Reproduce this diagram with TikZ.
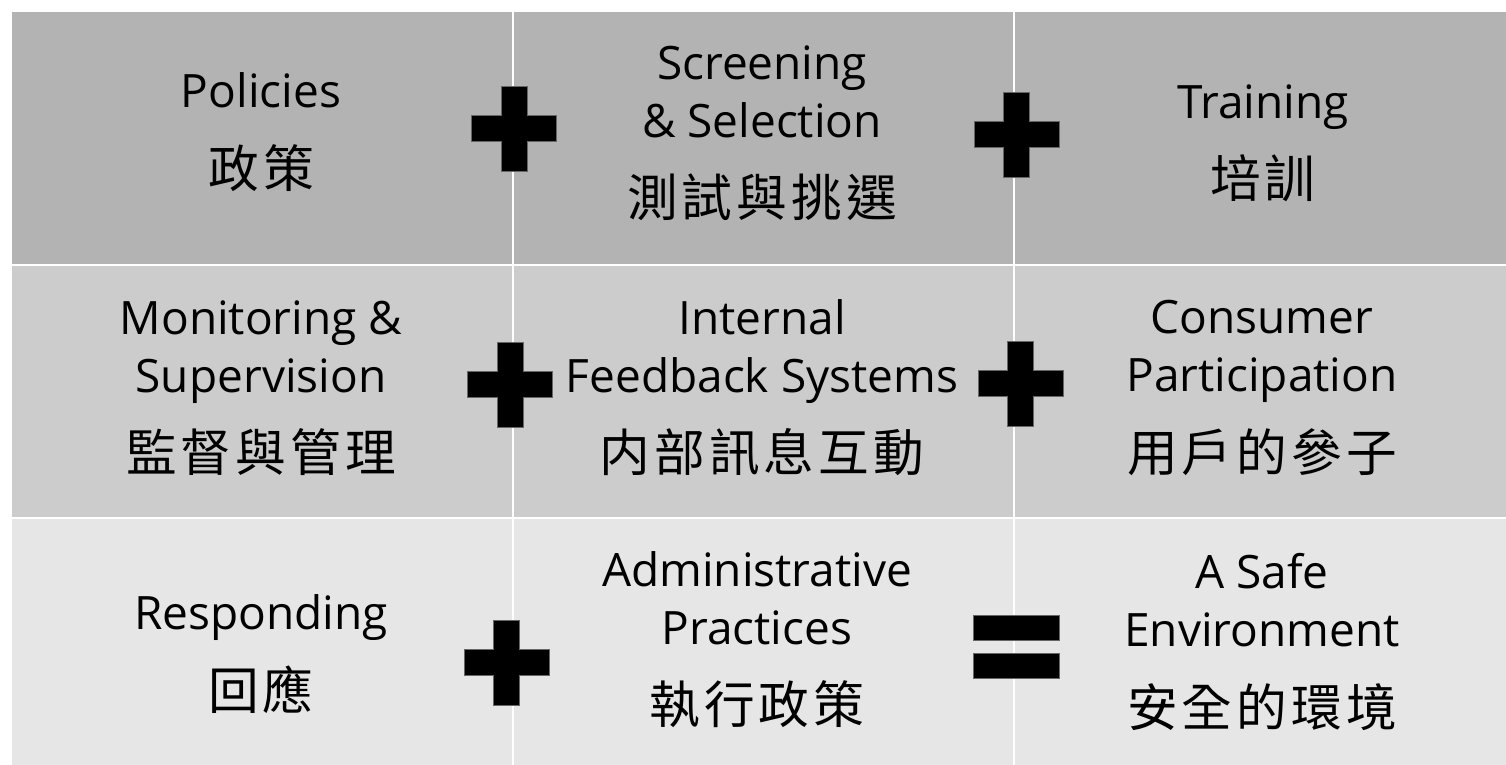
\documentclass[tikz,border=0pt]{standalone}
\usepackage{fontspec}
\setmainfont{Open Sans}
\newfontfamily\zhfont[LetterSpace=8]{Noto Sans CJK TC}
\usetikzlibrary{positioning}

\tikzset{every picture/.style={line width=0.75pt}}
\tikzset{
  cell/.style={anchor=north west, inner sep=0pt, draw=white, line width=1.5pt},
  rowa/.style={cell, fill={rgb,255:red,179;green,179;blue,179}},
  rowb/.style={cell, fill={rgb,255:red,204;green,204;blue,204}},
  rowc/.style={cell, fill={rgb,255:red,230;green,230;blue,230}},
  txt/.style={align=center, inner sep=0pt, font=\fontsize{34.5}{43.5}\selectfont},
  signbar/.style={fill=black, draw=black!60, line width=0.6pt},
  plussign/.pic={
    \path[signbar] (-13,-42.5) -- (13,-42.5) -- (13,-13) -- (42.5,-13) -- (42.5,13) -- (13,13)
      -- (13,42.5) -- (-13,42.5) -- (-13,13) -- (-42.5,13) -- (-42.5,-13) -- (-13,-13) -- cycle;
  },
  equalsign/.pic={
    \path[signbar] (-43,-31.5) rectangle (43,-6.5);
    \path[signbar] (-43,6.5) rectangle (43,31.5);
  }
}
\newcommand{\zh}[1]{{\zhfont\fontsize{38}{43.5}\selectfont #1}}

\begin{document}
\begin{tikzpicture}[x=0.75pt,y=0.75pt,yscale=-1,xscale=1]
\useasboundingbox (0,0) rectangle (1506,764);

% table cells, row by row
\node[rowa, minimum width=502*0.75pt, minimum height=254*0.75pt] (r1c1) at (10,10) {};
\node[rowa, minimum width=501*0.75pt, minimum height=254*0.75pt] (r1c2) at (512,10) {};
\node[rowa, minimum width=495*0.75pt, minimum height=254*0.75pt] (r1c3) at (1013,10) {};
\node[rowb, minimum width=502*0.75pt, minimum height=253*0.75pt] (r2c1) at (10,264) {};
\node[rowb, minimum width=501*0.75pt, minimum height=253*0.75pt] (r2c2) at (512,264) {};
\node[rowb, minimum width=495*0.75pt, minimum height=253*0.75pt] (r2c3) at (1013,264) {};
\node[rowc, minimum width=502*0.75pt, minimum height=249*0.75pt] (r3c1) at (10,517) {};
\node[rowc, minimum width=501*0.75pt, minimum height=249*0.75pt] (r3c2) at (512,517) {};
\node[rowc, minimum width=495*0.75pt, minimum height=249*0.75pt] (r3c3) at (1013,517) {};

% texts
\node[txt] (policies) at (261,132) {Policies\\[16pt]\zh{政策}};
\node[txt] (screening) at (762,133) {Screening\\\& Selection\\[16pt]\zh{測試與挑選}};
\node[txt] (training) at (1263,143) {Training\\[16pt]\zh{培訓}};
\node[txt] (monitoring) at (261,388) {Monitoring \&\\Supervision\\[16pt]\zh{監督與管理}};
\node[txt] (feedback) at (762,388) {Internal\\Feedback Systems\\[16pt]\zh{内部訊息互動}};
\node[txt] (consumer) at (1262,388) {Consumer\\Participation\\[16pt]\zh{用戶的參子}};
\node[txt] (responding) at (261,654) {Responding\\[16pt]\zh{回應}};
\node[txt] (practices) at (757,640) {Administrative\\Practices\\[16pt]\zh{執行政策}};
\node[txt] (safeenv) at (1262,642) {A Safe\\Environment\\[16pt]\zh{安全的環境}};

% signs between cells
\pic (plusa) at (514,128.5) {plussign};
\pic (plusb) at (1016.5,134.5) {plussign};
\pic (plusc) at (510,384.5) {plussign};
\pic (plusd) at (1020.5,383.5) {plussign};
\pic (pluse) at (506.5,662.5) {plussign};
\pic (equal) at (1016,646.5) {equalsign};

\end{tikzpicture}
\end{document}
